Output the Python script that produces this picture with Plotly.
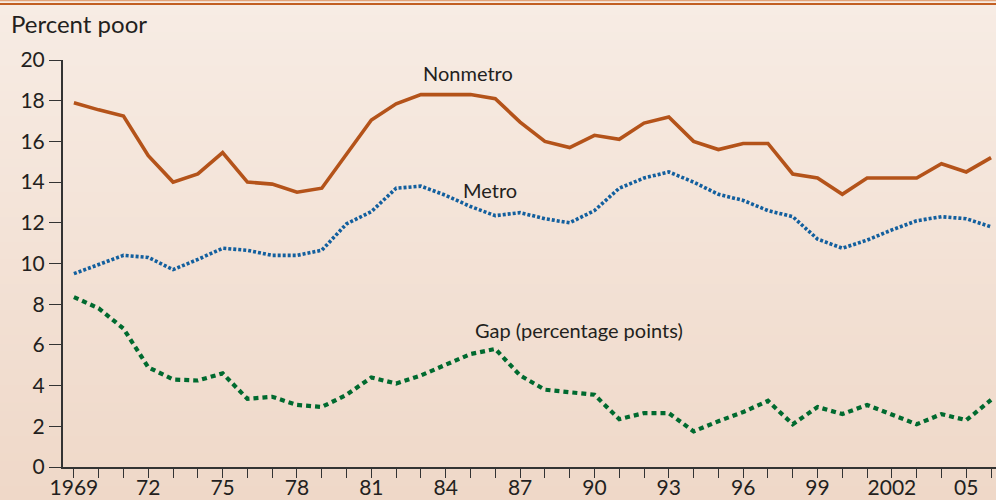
import plotly.graph_objects as go

years = list(range(1969, 2007))

nonmetro = [17.9, 17.55, 17.25, 15.3, 14.0, 14.4, 15.45, 14.0, 13.9, 13.5, 13.7,
            15.4, 17.05, 17.85, 18.3, 18.3, 18.3, 18.1, 16.95, 16.0, 15.7, 16.3,
            16.1, 16.9, 17.2, 16.0, 15.6, 15.9, 15.9, 14.4, 14.2, 13.4, 14.2,
            14.2, 14.2, 14.9, 14.5, 15.2]

metro = [9.5, 9.95, 10.4, 10.3, 9.7, 10.2, 10.75, 10.65, 10.4, 10.4, 10.65,
         11.95, 12.55, 13.7, 13.8, 13.35, 12.8, 12.35, 12.5, 12.2, 12.0, 12.6,
         13.7, 14.2, 14.5, 14.0, 13.4, 13.1, 12.6, 12.3, 11.2, 10.75, 11.15,
         11.65, 12.1, 12.3, 12.2, 11.8]

gap = [8.35, 7.8, 6.8, 4.9, 4.3, 4.25, 4.6, 3.35, 3.45, 3.05, 2.95,
       3.55, 4.4, 4.1, 4.5, 5.0, 5.55, 5.8, 4.5, 3.8, 3.65, 3.55,
       2.35, 2.65, 2.65, 1.75, 2.25, 2.7, 3.25, 2.1, 2.95, 2.6, 3.05,
       2.55, 2.1, 2.6, 2.3, 3.3]

tick_years = years
tick_labels = [("1969" if y == 1969 else ("2002" if y == 2002 else f"{y % 100:02d}"))
               if (y - 1969) % 3 == 0 else "" for y in years]

FONT = "Lato"
TXT = "#231f20"

fig = go.Figure()
fig.add_trace(go.Scatter(x=years, y=nonmetro, mode="lines",
                         line=dict(color="#b4531a", width=3.6), name="Nonmetro"))
fig.add_trace(go.Scatter(x=years, y=metro, mode="lines",
                         line=dict(color="#125f9e", width=3.6, dash="3px,2px"), name="Metro"))
fig.add_trace(go.Scatter(x=years, y=gap, mode="lines",
                         line=dict(color="#006a2f", width=4.2, dash="5px,4px"), name="Gap"))

# background gradient bands (paper coords spanning the whole figure)
top_c = (247, 236, 228)
bot_c = (239, 216, 200)
y_top, y_bot = 1.15, -0.09
n = 60
shapes = []
for i in range(n):
    t = i / (n - 1)
    c = tuple(round(top_c[k] + (bot_c[k] - top_c[k]) * t) for k in range(3))
    y1 = y_top - (y_top - y_bot) * i / n
    y0 = y_top - (y_top - y_bot) * (i + 1) / n
    shapes.append(dict(type="rect", xref="paper", yref="paper", x0=-0.08, x1=1.02,
                       y0=y0 - 0.001, y1=y1 + 0.001, fillcolor="rgb(%d,%d,%d)" % c,
                       line=dict(width=0), layer="below"))
# top orange rules
shapes.append(dict(type="line", xref="paper", yref="paper", x0=-0.08, x1=1.02,
                   y0=(467 - 0.5) / 407, y1=(467 - 0.5) / 407,
                   line=dict(color="#e3a47a", width=1.5), layer="above"))
shapes.append(dict(type="line", xref="paper", yref="paper", x0=-0.08, x1=1.02,
                   y0=(467 - 4) / 407, y1=(467 - 4) / 407,
                   line=dict(color="#c25f22", width=2.2), layer="above"))

annotations = [
    dict(text="Percent poor", xref="paper", yref="paper", x=(9 - 63) / 933, y=(467 - 23) / 407,
         xanchor="left", yanchor="middle", showarrow=False, font=dict(family=FONT, size=24, color=TXT)),
    dict(text="Nonmetro", xref="paper", yref="paper", x=(468 - 63) / 933, y=(467 - 73) / 407,
         xanchor="center", yanchor="middle", showarrow=False, font=dict(family=FONT, size=20, color=TXT)),
    dict(text="Metro", xref="paper", yref="paper", x=(490 - 63) / 933, y=(467 - 190) / 407,
         xanchor="center", yanchor="middle", showarrow=False, font=dict(family=FONT, size=20, color=TXT)),
    dict(text="Gap (percentage points)", xref="paper", yref="paper", x=(579 - 63) / 933, y=(467 - 330) / 407,
         xanchor="center", yanchor="middle", showarrow=False, font=dict(family=FONT, size=20, color=TXT)),
]

fig.update_layout(
    width=996, height=500,
    margin=dict(l=63, r=0, t=60, b=33, autoexpand=False),
    paper_bgcolor="rgb(243,226,214)",
    plot_bgcolor="rgba(0,0,0,0)",
    showlegend=False,
    shapes=shapes,
    annotations=annotations,
    font=dict(family=FONT, color=TXT),
    xaxis=dict(range=[1968.56, 2006.2], tickmode="array", tickvals=tick_years, ticktext=tick_labels,
               ticks="outside", ticklen=9, tickwidth=1.3, tickcolor="#333", automargin=False,
               ticklabelstandoff=-8,
               showline=True, linecolor="#333", linewidth=2, showgrid=False, zeroline=False,
               tickfont=dict(family=FONT, size=21, color=TXT)),
    yaxis=dict(range=[0, 20], tickmode="array", tickvals=list(range(0, 21, 2)),
               ticks="outside", ticklen=12, tickwidth=1.3, tickcolor="#333", automargin=False,
               showline=True, linecolor="#333", linewidth=2, showgrid=False, zeroline=False,
               tickfont=dict(family=FONT, size=21, color=TXT)),
)

fig.write_html(
    "out.html",
    config={"displayModeBar": False},
    post_script="document.body.style.margin='0';document.body.style.padding='0';"
                "document.documentElement.style.overflow='hidden';document.body.style.overflow='hidden';",
)
